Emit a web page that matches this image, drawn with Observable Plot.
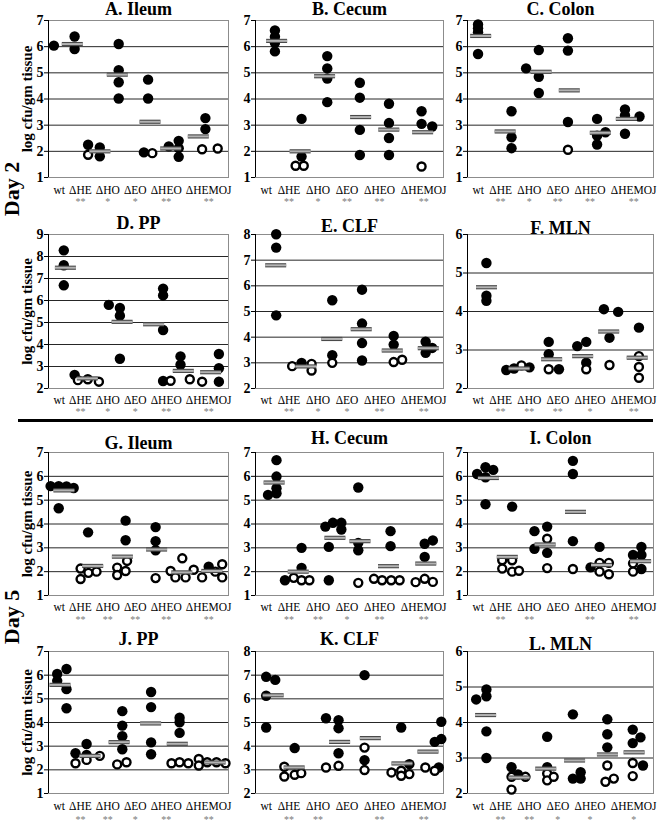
<!DOCTYPE html>
<html><head><meta charset="utf-8">
<script src="https://cdn.jsdelivr.net/npm/d3@7"></script>
<script src="https://cdn.jsdelivr.net/npm/@observablehq/plot@0.6"></script>
<style>
body{margin:0;background:#fff;}
#chart{position:relative;width:661px;height:825px;overflow:hidden;background:#fff;}
#chart svg{position:absolute;}
.day{position:absolute;font:bold 22px "Liberation Serif","Times New Roman",serif;line-height:1;white-space:nowrap;transform:translate(-50%,-50%) rotate(-90deg);}
.sep{position:absolute;background:#000;}
</style>
</head><body>
<div id="chart"></div>
<script>
const categories = ["wt","ΔHE","ΔHO","ΔEO","ΔHEO","ΔHEMOJ"];
const titles = ["A. Ileum","B. Cecum","C. Colon","D. PP","E. CLF","F. MLN","G. Ileum","H. Cecum","I. Colon","J. PP","K. CLF","L. MLN"];
const yRanges = [[1,7],[1,7],[1,7],[2,9],[2,8],[2,6],[1,7],[1,7],[1,7],[1,7],[2,8],[2,6]];
const dayLabels = ["Day 2","Day 5"];
const yLabel = "log cfu/gm tissue";

// points: [x on category axis (0..6), log cfu/gm tissue, open circle 1/0]
const ptsA = [[0.18,6.04,0],[0.87,6.39,0],[0.87,5.91,0],
 [1.32,2.25,0],[1.32,1.87,1],[1.71,2.15,0],[1.71,1.81,0],
 [2.34,6.10,0],[2.34,5.10,0],[2.34,4.64,0],[2.34,4.02,0],
 [3.32,4.74,0],[3.32,4.02,0],[3.18,1.96,0],[3.46,1.93,1],
 [4.01,2.19,0],[4.34,2.40,0],[4.34,2.12,0],[4.34,1.79,0],
 [5.23,3.27,0],[5.23,2.85,0],[5.12,2.08,1],[5.64,2.11,1]];
const ptsB = [[0.62,6.62,0],[0.62,6.38,0],[0.62,6.15,0],[0.62,5.82,0],
 [1.47,3.24,0],[1.47,1.80,0],[1.28,1.45,1],[1.54,1.45,1],
 [2.29,5.64,0],[2.29,5.17,0],[2.29,4.78,0],[2.29,3.88,0],
 [3.33,4.62,0],[3.33,4.05,0],[3.33,2.82,0],[3.33,1.86,0],
 [4.26,3.82,0],[4.26,3.08,0],[4.26,2.51,0],[4.26,1.86,0],
 [5.30,3.53,0],[5.30,3.05,0],[5.64,2.95,0],[5.30,1.42,1]];
const ptsC = [[0.34,6.85,0],[0.34,6.70,0],[0.34,6.55,0],[0.34,5.72,0],
 [1.42,3.53,0],[1.42,2.54,0],[1.42,2.12,0],
 [1.89,5.17,0],[2.30,5.87,0],[2.30,4.85,0],[2.30,4.23,0],
 [3.24,6.32,0],[3.24,5.85,0],[3.24,3.12,0],[3.24,2.06,1],
 [4.18,3.24,0],[4.18,2.60,0],[4.18,2.26,0],[4.45,2.73,0],
 [5.08,3.60,0],[5.08,3.37,0],[5.08,2.67,0],[5.55,3.33,0]];
const ptsD = [[0.51,8.28,0],[0.51,7.60,0],[0.51,6.69,0],
 [0.87,2.62,0],[0.98,2.38,1],[1.31,2.42,1],[1.68,2.31,1],
 [2.01,5.80,0],[2.38,5.66,0],[2.38,5.31,0],[2.38,3.35,0],
 [3.82,6.54,0],[3.82,6.23,0],[3.82,4.66,0],[3.82,2.34,0],
 [4.40,3.46,0],[4.40,3.08,0],[4.07,2.35,1],[4.71,2.42,1],
 [5.68,3.57,0],[5.68,2.92,0],[5.68,2.31,0],[5.12,2.31,1]];
const ptsE = [[0.66,8.01,0],[0.66,7.49,0],[0.66,4.85,0],
 [1.17,2.87,1],[1.47,3.00,0],[1.79,2.96,1],[1.79,2.70,1],
 [2.45,5.44,0],[2.45,3.30,0],[2.45,3.00,1],
 [3.40,5.85,0],[3.40,4.53,0],[3.40,3.77,0],[3.40,3.09,0],
 [4.41,4.05,0],[4.41,3.71,0],[4.41,3.03,1],[4.68,3.12,1],
 [5.43,3.82,0],[5.43,3.39,0],[5.64,3.58,0]];
const ptsF = [[0.61,5.26,0],[0.61,4.41,0],[0.61,4.28,0],
 [1.25,2.48,0],[1.50,2.52,0],[1.74,2.60,1],[2.00,2.55,0],
 [2.62,3.21,0],[2.62,2.89,0],[2.62,2.50,1],[2.95,2.50,0],
 [3.54,3.10,0],[3.83,3.21,0],[3.83,2.67,0],[3.83,2.50,1],
 [4.40,4.06,0],[4.86,3.99,0],[4.58,3.32,0],[4.58,2.61,1],
 [5.53,3.58,0],[5.53,2.84,1],[5.53,2.56,1],[5.53,2.28,1]];
const ptsG = [[0.07,5.59,0],[0.34,5.59,0],[0.60,5.58,0],[0.84,5.51,0],[0.34,4.66,0],
 [1.32,3.65,0],[1.07,2.13,1],[1.07,1.69,1],[1.33,1.95,1],[1.60,2.00,1],
 [2.57,4.14,0],[2.57,3.32,0],[2.62,2.45,1],[2.29,2.17,1],[2.29,1.86,1],[2.57,2.03,1],
 [3.57,3.87,0],[3.57,3.28,0],[3.57,2.90,0],[3.57,1.73,1],
 [4.07,2.03,1],[4.46,2.56,1],[4.23,1.76,1],[4.57,1.76,1],[4.84,2.08,1],
 [5.34,2.21,0],[5.12,1.76,1],[5.56,2.00,1],[5.79,2.31,1],[5.79,1.76,1]];
const ptsH = [[0.40,5.22,0],[0.67,6.68,0],[0.67,5.99,0],[0.67,5.50,0],[0.67,5.29,0],
 [0.94,1.64,0],[1.22,1.74,1],[1.47,3.00,0],[1.47,2.16,0],[1.47,1.64,1],[1.72,1.64,1],
 [2.23,3.89,0],[2.47,4.05,0],[2.74,4.05,0],[2.74,3.77,0],[2.34,3.04,0],[2.34,1.64,0],
 [3.28,5.53,0],[3.28,3.21,0],[3.28,2.90,0],[3.28,1.53,1],
 [4.31,3.70,0],[4.31,3.07,0],[3.78,1.70,1],[4.04,1.64,1],[4.33,1.64,1],[4.60,1.64,1],
 [5.40,3.17,0],[5.66,3.31,0],[5.40,2.62,0],[5.11,1.56,1],[5.40,1.70,1],[5.66,1.57,1]];
const ptsI = [[0.31,6.10,0],[0.58,6.38,0],[0.58,5.96,0],[0.83,6.27,0],[0.58,4.83,0],
 [1.44,4.73,0],[1.12,2.48,1],[1.12,2.13,1],[1.44,2.48,1],[1.44,2.00,1],[1.66,2.04,1],
 [2.16,3.70,0],[2.57,3.89,0],[2.16,2.96,0],[2.57,3.38,1],[2.57,2.79,0],[2.57,2.15,1],
 [3.40,6.65,0],[3.40,6.10,0],[3.40,3.28,0],[3.40,2.11,1],
 [3.97,2.18,0],[4.26,3.04,0],[4.26,2.37,1],[4.26,2.00,1],[4.56,2.37,1],[4.56,1.89,1],
 [5.34,2.70,0],[5.61,3.04,0],[5.61,2.70,0],[5.61,2.11,0],[5.34,2.35,1],[5.34,2.00,1]];
const ptsJ = [[0.29,6.05,0],[0.29,5.76,0],[0.60,6.26,0],[0.60,5.41,0],[0.60,4.60,0],
 [0.90,2.70,0],[0.90,2.28,1],[1.27,3.09,0],[1.27,2.63,0],[1.27,2.42,1],[1.71,2.59,1],
 [2.46,4.48,0],[2.46,3.87,0],[2.46,3.42,0],[2.46,2.87,0],[2.29,2.23,1],[2.60,2.32,1],
 [3.42,5.29,0],[3.42,4.65,0],[3.42,3.16,0],[3.42,2.66,0],
 [4.37,4.20,0],[4.37,4.01,0],[4.37,3.56,0],[4.10,2.28,1],[4.37,2.32,1],[4.66,2.28,1],
 [5.01,2.46,1],[5.01,2.18,1],[5.29,2.32,1],[5.60,2.32,1],[5.90,2.28,1]];
const ptsK = [[0.34,6.93,0],[0.63,6.80,0],[0.34,6.13,0],[0.34,4.79,0],
 [1.25,3.92,0],[0.92,3.13,1],[0.92,2.72,1],[1.25,2.79,1],[1.46,2.86,1],
 [2.25,5.18,0],[2.65,5.10,0],[2.65,4.76,0],[2.65,3.70,0],[2.25,3.10,1],[2.65,3.17,1],
 [3.48,7.00,0],[3.48,3.94,1],[3.48,3.41,0],[3.48,2.99,1],
 [4.65,4.79,0],[4.34,2.89,1],[4.65,2.96,1],[4.91,3.24,0],[4.65,2.75,1],[4.91,2.82,1],
 [5.72,4.18,0],[5.93,5.03,0],[5.93,4.30,0],[5.42,3.10,1],[5.72,2.96,1],[5.85,3.10,0]];
const ptsL = [[0.28,4.65,0],[0.61,4.93,0],[0.61,4.74,0],[0.61,3.75,0],[0.61,3.00,0],
 [1.42,2.74,0],[1.42,2.47,1],[1.42,2.11,1],[1.63,2.54,0],[1.87,2.47,1],
 [2.57,3.60,0],[2.57,2.74,0],[2.57,2.56,1],[2.57,2.37,1],[2.78,2.47,1],
 [3.40,4.23,0],[3.40,2.42,0],[3.65,2.60,0],[3.65,2.42,0],
 [4.51,4.09,0],[4.51,3.67,0],[4.51,3.30,0],[4.51,2.79,1],[4.45,2.33,1],[4.72,2.42,1],
 [5.33,3.80,0],[5.33,3.42,0],[5.58,3.58,0],[5.33,2.86,1],[5.33,2.49,1],[5.66,2.79,0]];

// group means (grey bars): [x centre on category axis, log cfu/gm]
const meanA = [[0.81,6.10],[1.73,2.00],[2.31,4.93],[3.40,3.13],[4.09,2.11],[5.01,2.57]];
const meanB = [[0.69,6.22],[1.44,2.00],[2.22,4.87],[3.37,3.31],[4.27,2.83],[5.35,2.73]];
const meanC = [[0.44,6.41],[1.23,2.76],[2.39,5.04],[3.30,4.33],[4.30,2.71],[5.14,3.24]];
const meanD = [[0.58,7.49],[1.31,2.46],[2.47,5.03],[3.52,4.92],[4.51,2.80],[5.42,2.74]];
const meanE = [[0.66,6.80],[1.62,2.86],[2.45,3.93],[3.39,4.31],[4.38,3.48],[5.53,3.57]];
const meanF = [[0.63,4.63],[1.68,2.52],[2.73,2.76],[3.73,2.84],[4.57,3.48],[5.49,2.80]];
const meanG = [[0.53,5.41],[1.49,2.24],[2.48,2.63],[3.62,2.93],[4.46,1.97],[5.46,2.03]];
const meanH = [[0.61,5.74],[1.38,2.00],[2.55,3.42],[3.35,3.28],[4.26,2.23],[5.45,2.34]];
const meanI = [[0.69,5.93],[1.30,2.62],[2.52,3.14],[3.50,4.51],[4.34,2.28],[5.60,2.44]];
const meanJ = [[0.40,5.59],[1.40,2.59],[2.37,3.17],[3.42,3.96],[4.31,3.10],[5.57,2.31]];
const meanK = [[0.58,6.15],[1.25,3.10],[2.70,4.18],[3.68,4.34],[4.69,3.27],[5.52,3.77]];
const meanL = [[0.60,4.21],[1.68,2.45],[2.54,2.70],[3.47,2.93],[4.53,3.10],[5.39,3.16]];

// significance marks under each category
const starsA = ["","**","*","*","**","**"];
const starsB = ["","**","*","**","**","**"];
const starsC = ["","**","*","**","**","**"];
const starsD = ["","**","*","*","**","**"];
const starsE = ["","**","*","*","**","**"];
const starsF = ["","**","**","**","*","**"];
const starsG = ["","**","**","**","**","**"];
const starsH = ["","**","**","*","**","**"];
const starsI = ["","**","**","","**","**"];
const starsJ = ["","**","**","*","**","**"];
const starsK = ["","**","**","","**","**"];
const starsL = ["","**","**","*","*","*"];

const allPts = [ptsA,ptsB,ptsC,ptsD,ptsE,ptsF,ptsG,ptsH,ptsI,ptsJ,ptsK,ptsL];
const allMeans = [meanA,meanB,meanC,meanD,meanE,meanF,meanG,meanH,meanI,meanJ,meanK,meanL];
const allStars = [starsA,starsB,starsC,starsD,starsE,starsF,starsG,starsH,starsI,starsJ,starsK,starsL];

// ---------- layout ----------
const FONT = '"Liberation Serif","Times New Roman",serif';
const cols = [{left:0,width:236,fl:48,fr:228},{left:236,width:213,fl:255,fr:443},{left:449,width:212,fl:467,fr:653}];
const rows = [
 {top:0,height:208,ft:20,fb:177,ty:[8.5,8.5,8.5],ly:190,sy:201},
 {top:208,height:212,ft:234,fb:388,ty:[222.5,226,228],ly:400,sy:411},
 {top:422,height:205,ft:452,fb:595,ty:[443,438,438],ly:607,sy:619},
 {top:627,height:198,ft:651,fb:793,ty:[639,639,644],ly:806,sy:819}];
const labelFont = 11.5;
const ctx = document.createElement("canvas").getContext("2d");
ctx.font = `${labelFont}px "Liberation Serif"`;
const labW = categories.map(c => ctx.measureText(c).width);

const chart = document.getElementById("chart");

function panel(i) {
  const r = rows[Math.floor(i/3)], c = cols[i%3];
  const ml = c.fl - c.left, mr = c.left + c.width - c.fr;
  const mt = r.ft - r.top, mb = r.top + r.height - r.fb;
  const fw = c.fr - c.fl, unit = fw/6;
  const [ymin, ymax] = yRanges[i];
  const ticks = d3.range(ymin, ymax + 1);
  const stars = allStars[i];
  // typed-label layout: labels justified across the frame
  const sum = d3.sum(labW);
  const gap = Math.max(2, (fw - 2 - sum) / 5);
  let cur = 5;
  const labels = categories.map((name, k) => {
    const cx = cur + labW[k]/2; cur += labW[k] + gap;
    return {name, u: cx/unit, star: stars[k]};
  });
  const dots = allPts[i].map(([x, v, o]) => ({x, v, open: o === 1}));
  const half = 10.5/unit;
  const bars = allMeans[i].map(([x, v]) => ({x1: x - half, x2: x + half, v}));
  const marks = [
    Plot.ruleY(ticks.filter(t => t < ymax), {stroke: "#262626", strokeWidth: 1}),
    Plot.frame({stroke: "#8c8c8c"}),
    Plot.ruleX([0], {stroke: "#000"}),
    Plot.dot(dots.filter(d => !d.open), {x: "x", y: "v", r: 5.2, fill: "#000"}),
    Plot.dot(dots.filter(d => d.open), {x: "x", y: "v", r: 4, fill: "#fff", stroke: "#000", strokeWidth: 2.4}),
    Plot.ruleY(bars, {x1: "x1", x2: "x2", y: "v", stroke: "#4a4a4a", strokeWidth: 4.2}),
    Plot.ruleY(bars, {x1: "x1", x2: "x2", y: "v", stroke: "#b3b3b3", strokeWidth: 2}),
    Plot.text([titles[i]], {frameAnchor: "top", dy: r.ty[i%3] - r.ft, text: d => d, fontSize: 18, fontWeight: "bold", lineAnchor: "middle", textAnchor: "middle"}),
    Plot.text(labels, {x: "u", text: "name", frameAnchor: "bottom", dy: r.ly - r.fb, fontSize: labelFont, fontWeight: "normal", lineAnchor: "middle", textAnchor: "middle"}),
    Plot.text(labels.filter(d => d.star), {x: "u", text: "star", frameAnchor: "bottom", dy: r.sy - r.fb, fontSize: 10, fontWeight: "normal", fill: "#7a7a7a", lineAnchor: "middle", textAnchor: "middle"})
  ];
  if (i % 3 === 0) {
    marks.push(Plot.text([yLabel], {frameAnchor: "left", rotate: -90, dx: -21, text: d => d, fontSize: 15, fontWeight: "bold", lineAnchor: "middle", textAnchor: "middle"}));
  }
  const svg = Plot.plot({
    width: c.width, height: r.height,
    marginLeft: ml, marginRight: mr, marginTop: mt, marginBottom: mb,
    x: {domain: [0, 6], axis: null},
    y: {domain: [ymin, ymax], ticks, tickFormat: "d", tickSize: 4, tickPadding: 1, label: null},
    style: {fontFamily: FONT, fontSize: "14px", fontWeight: "bold", color: "#000", background: "transparent", overflow: "visible"},
    marks
  });
  svg.style.position = "absolute";
  svg.style.left = c.left + "px";
  svg.style.top = r.top + "px";
  chart.appendChild(svg);
}
for (let i = 0; i < 12; i++) panel(i);

const sep = document.createElement("div");
sep.className = "sep";
Object.assign(sep.style, {left: "18px", top: "419px", width: "635px", height: "3px"});
chart.appendChild(sep);

[[dayLabels[0], 189], [dayLabels[1], 617]].forEach(([t, y]) => {
  const d = document.createElement("div");
  d.className = "day";
  d.textContent = t;
  d.style.left = "12px";
  d.style.top = y + "px";
  chart.appendChild(d);
});
</script>
</body></html>
